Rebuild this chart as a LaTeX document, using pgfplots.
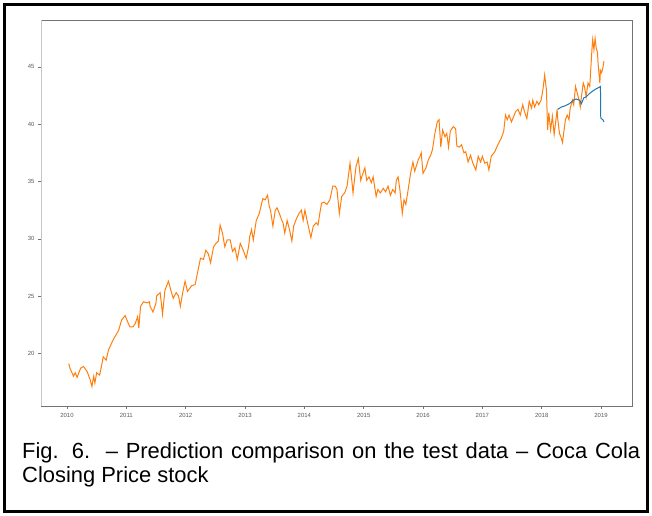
\documentclass[border=0pt]{standalone}
\usepackage{fontspec}
\setmainfont{Liberation Sans}
\usepackage{pgfplots}
\pgfplotsset{compat=1.18}
\definecolor{mplorange}{HTML}{FF7F0E}
\definecolor{mplblue}{HTML}{1F77B4}
\begin{document}
\begin{tikzpicture}
\useasboundingbox (0,0) rectangle (652bp,516bp);
\begin{axis}[
  at={(41bp,110bp)}, anchor=south west,
  scale only axis, width=591bp, height=386bp,
  xmin=2009.562, xmax=2019.522, ymin=15.4, ymax=49.1,
  xtick={2010,2011,2012,2013,2014,2015,2016,2017,2018,2019},
  xticklabels={2010,2011,2012,2013,2014,2015,2016,2017,2018,2019},
  ytick={20,25,30,35,40,45},
  yticklabels={20,25,30,35,40,45},
  tick pos=left, tick align=outside, major tick length=3bp,
  tick style={black!55, line width=0.5bp},
  ticklabel style={font=\fontsize{6}{6.5}\selectfont, text=black!65},
  xticklabel style={yshift=-0.5bp},
  axis line style={black!55, line width=0.8bp},
  clip=true,
]
\addplot[mplorange, line width=1bp] coordinates {
(2010.03,19.1) (2010.05,18.7) (2010.11,18.0) (2010.14,18.3) (2010.17,17.9)
(2010.23,18.7) (2010.28,18.85) (2010.34,18.4) (2010.39,17.7) (2010.42,17.1)
(2010.45,18.0) (2010.47,17.4) (2010.50,18.3) (2010.55,18.1) (2010.59,19.1)
(2010.61,19.7) (2010.66,19.4) (2010.70,20.3) (2010.78,21.2) (2010.87,22.0)
(2010.92,22.9) (2010.98,23.3) (2011.01,22.9) (2011.06,22.3) (2011.11,22.3)
(2011.15,22.6) (2011.19,23.2) (2011.21,22.2) (2011.24,24.1) (2011.29,24.5)
(2011.35,24.4) (2011.39,24.5) (2011.40,24.1) (2011.45,23.6) (2011.50,24.4)
(2011.51,25.0) (2011.57,25.3) (2011.61,23.4) (2011.65,25.5) (2011.71,26.3)
(2011.75,25.5) (2011.79,24.8) (2011.84,25.3) (2011.88,25.0) (2011.91,24.1)
(2011.95,25.3) (2011.99,26.3) (2012.03,25.4) (2012.10,25.9) (2012.16,26.0)
(2012.21,27.3) (2012.25,28.3) (2012.30,28.2) (2012.34,29.0) (2012.38,28.7)
(2012.42,27.9) (2012.47,29.3) (2012.51,29.6) (2012.55,29.8) (2012.58,31.2)
(2012.62,30.5) (2012.66,29.3) (2012.70,29.9) (2012.75,29.9) (2012.79,28.9)
(2012.83,29.2) (2012.87,28.2) (2012.92,29.6) (2012.97,29.0) (2013.02,28.3)
(2013.06,29.3) (2013.08,30.2) (2013.11,30.8) (2013.14,29.9) (2013.19,31.6)
(2013.24,32.2) (2013.30,33.5) (2013.34,33.4) (2013.38,33.8) (2013.41,32.8)
(2013.43,32.5) (2013.47,31.1) (2013.51,32.5) (2013.54,32.7) (2013.58,32.2)
(2013.62,31.6) (2013.64,31.4) (2013.67,30.5) (2013.71,31.6) (2013.75,30.8)
(2013.79,29.8) (2013.82,31.1) (2013.87,31.8) (2013.91,32.2) (2013.95,32.5)
(2013.98,31.6) (2014.01,32.5) (2014.05,31.5) (2014.08,30.8) (2014.11,30.1)
(2014.15,31.1) (2014.20,31.4) (2014.23,31.2) (2014.26,32.2) (2014.29,33.1)
(2014.33,33.2) (2014.38,33.0) (2014.43,33.4) (2014.48,34.6) (2014.52,34.6)
(2014.55,34.3) (2014.59,32.2) (2014.63,33.7) (2014.68,34.0) (2014.72,34.6)
(2014.77,36.6) (2014.80,35.1) (2014.82,34.0) (2014.87,36.3) (2014.91,37.0)
(2014.95,35.1) (2014.98,35.6) (2015.02,36.2) (2015.05,35.1) (2015.09,35.4)
(2015.13,34.9) (2015.16,35.4) (2015.21,33.7) (2015.24,34.3) (2015.28,34.0)
(2015.33,34.4) (2015.37,34.1) (2015.41,34.6) (2015.45,33.8) (2015.49,34.3)
(2015.53,34.0) (2015.55,35.1) (2015.58,35.4) (2015.61,34.3) (2015.64,32.8)
(2015.65,32.2) (2015.68,33.4) (2015.71,33.0) (2015.75,34.3) (2015.79,35.7)
(2015.83,36.7) (2015.86,35.9) (2015.89,36.4) (2015.92,36.9) (2015.95,37.2)
(2015.97,37.5) (2016.00,35.7) (2016.05,36.2) (2016.09,36.9) (2016.13,37.3)
(2016.16,37.8) (2016.20,39.2) (2016.24,40.2) (2016.27,40.4) (2016.30,38.0)
(2016.33,39.5) (2016.37,38.9) (2016.40,39.2) (2016.43,38.0) (2016.46,39.4)
(2016.51,39.8) (2016.55,39.6) (2016.57,38.1) (2016.61,38.0) (2016.65,38.2)
(2016.69,37.5) (2016.72,37.6) (2016.76,36.7) (2016.80,37.3) (2016.84,36.6)
(2016.89,36.0) (2016.93,37.2) (2016.97,36.7) (2017.00,37.2) (2017.04,36.6)
(2017.08,36.7) (2017.11,36.0) (2017.15,37.2) (2017.21,37.6) (2017.26,38.2)
(2017.32,38.8) (2017.36,39.4) (2017.39,40.8) (2017.42,40.4) (2017.45,40.8)
(2017.49,40.2) (2017.53,40.7) (2017.56,41.1) (2017.60,41.3) (2017.64,40.8)
(2017.68,41.7) (2017.71,41.1) (2017.75,40.5) (2017.79,42.0) (2017.83,41.4)
(2017.85,42.1) (2017.88,41.5) (2017.92,42.0) (2017.95,41.7) (2017.99,42.1)
(2018.02,43.0) (2018.05,44.3) (2018.08,43.0) (2018.10,39.5) (2018.12,41.0)
(2018.15,39.5) (2018.18,40.7) (2018.21,39.1) (2018.24,40.4) (2018.26,41.3)
(2018.27,40.5) (2018.30,39.2) (2018.33,38.8) (2018.35,38.4) (2018.37,39.2)
(2018.40,40.4) (2018.43,40.8) (2018.46,40.4) (2018.48,41.4) (2018.52,42.1)
(2018.54,41.7) (2018.57,43.3) (2018.59,42.9) (2018.63,42.1) (2018.65,41.5)
(2018.67,42.4) (2018.70,43.6) (2018.72,43.3) (2018.75,42.4) (2018.78,43.6)
(2018.81,43.3) (2018.82,44.2) (2018.85,46.8) (2018.86,47.4) (2018.88,46.5)
(2018.90,47.5) (2018.92,46.6) (2018.94,46.3) (2018.95,45.3) (2018.98,43.6)
(2018.99,44.7) (2019.01,44.5) (2019.03,44.9) (2019.05,45.5)
};
\addplot[mplblue, line width=1bp] coordinates {
(2018.27,41.3) (2018.33,41.5) (2018.39,41.6) (2018.47,41.8) (2018.53,42.1)
(2018.58,42.2) (2018.64,42.1) (2018.67,41.8) (2018.71,42.3) (2018.75,42.4)
(2018.81,42.7) (2018.86,42.9) (2018.92,43.1) (2018.96,43.2) (2018.99,43.3)
(2018.995,40.7) (2019.00,40.5) (2019.03,40.4) (2019.05,40.2)
};
\draw[black!22, line width=1.5bp] (rel axis cs:0,0) -- (rel axis cs:0,1);
\end{axis}
\draw[black, line width=2.6bp] (4.3bp,4.3bp) rectangle (647.7bp,511.7bp);
\node[anchor=base west, inner sep=0pt, font=\fontsize{22}{23}\selectfont] at (22bp,57bp)
  {\makebox[618bp][s]{Fig. 6.\ \ – Prediction comparison on the test data – Coca Cola}};
\node[anchor=base west, inner sep=0pt, font=\fontsize{22}{23}\selectfont] at (22bp,34bp)
  {Closing Price stock};
\end{tikzpicture}
\end{document}
